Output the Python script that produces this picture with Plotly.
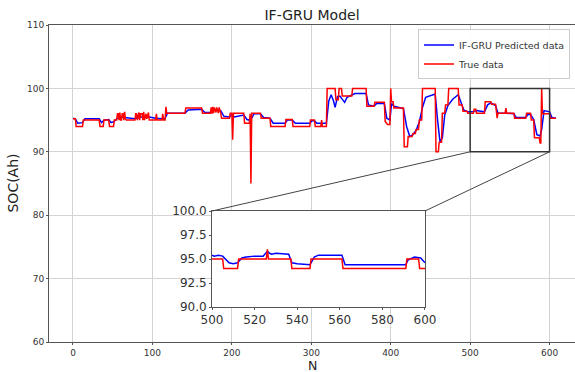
import plotly.graph_objects as go

# ---- data ----
true_n = [0, 3, 4, 12, 13, 33, 34, 38, 39, 45, 46, 51, 52, 55,
          56, 57, 58, 59, 60, 61, 62, 63, 64, 65, 66, 67,
          78, 79, 80, 81, 83, 84, 85, 87, 88, 89, 90, 92, 93, 95, 96,
          104, 105, 106, 112, 113, 114, 116, 117, 118,
          141, 142, 162, 163, 173,
          174, 175, 176, 177, 178, 180, 181, 183, 184, 186, 187,
          197, 198, 200, 201, 202, 215, 216, 222, 223, 224, 225, 236, 237, 248, 249,
          267, 268, 276, 277, 298, 299, 304, 305, 312, 313, 314, 319, 320, 330, 331,
          334, 335, 338, 339, 351, 352, 369, 370, 379, 380, 392, 393, 396, 399, 400,
          401, 403, 404, 416, 417, 421, 422, 427, 428, 431, 432, 435, 436, 439, 440,
          456, 457, 460, 461, 464, 465, 468, 469, 472, 473, 485, 486, 490, 491, 496,
          497, 504, 505, 507, 508, 518, 519, 526, 527, 532, 533, 534, 535, 544, 545,
          546, 555, 556, 570, 571, 576, 577, 580, 581, 587, 588, 589, 590, 591, 600,
          601, 608]
true_soc = [95.2, 95.2, 94.0, 94.0, 95.0, 95.0, 94.0, 94.0, 95.0, 95.0, 94.0, 94.0, 95.0, 95.0,
            96.0, 96.0, 95.0, 96.2, 95.0, 95.0, 96.0, 96.0, 95.0, 96.3, 95.2, 95.0,
            95.0, 96.0, 96.0, 95.0, 96.2, 95.0, 96.0, 96.0, 95.0, 96.3, 95.0, 96.0, 95.2, 96.2, 95.0,
            95.0, 96.0, 95.0, 95.0, 96.0, 95.0, 95.0, 97.1, 96.1,
            96.1, 96.9, 96.9, 96.1, 96.1,
            97.0, 96.0, 97.1, 96.1, 97.0, 96.2, 97.0, 96.1, 97.0, 96.1, 95.3,
            95.3, 96.1, 96.1, 91.9, 96.1, 96.1, 94.5, 94.5, 96.0, 85.0, 96.1, 96.1, 95.3, 95.3, 94.0,
            94.0, 95.1, 95.1, 94.0, 94.0, 95.0, 95.0, 94.0, 94.0, 95.0, 94.0, 94.0, 100.0, 100.0, 98.2,
            98.2, 100.0, 100.0, 98.8, 98.8, 100.0, 100.0, 97.2, 97.2, 97.8, 97.8, 94.8, 94.3, 94.3, 100.0,
            97.9, 97.9, 96.9, 96.9, 90.8, 90.8, 92.4, 92.4, 92.9, 92.9, 93.5, 93.5, 95.0, 95.0, 100.0,
            100.0, 90.0, 90.0, 91.5, 91.5, 96.1, 96.1, 97.4, 97.4, 100.0, 100.0, 97.4, 97.4, 96.4, 96.4,
            96.1, 96.1, 96.7, 96.7, 96.1, 96.1, 97.9, 97.9, 97.5, 97.5, 96.1, 95.3, 96.1, 96.1, 96.9,
            96.1, 96.1, 95.3, 95.3, 96.1, 96.1, 95.0, 95.0, 92.2, 92.2, 91.4, 91.4, 100.0, 96.0, 96.0,
            95.3, 95.3]

pred_n = [0, 3, 6, 12, 15, 33, 36, 39, 45, 48, 52, 55, 60, 67, 78, 85, 96, 104, 112, 116, 119,
          141, 145, 162, 166, 173, 178, 186, 190, 197, 200, 203, 215, 219, 222, 225, 228, 236, 240,
          248, 252, 267, 270, 276, 280, 298, 301, 304, 307, 319, 322, 325, 328, 330, 333, 336, 339,
          342, 345, 351, 355, 369, 372, 379, 382, 392, 395, 399, 401, 404, 416, 420, 424, 428, 432,
          436, 440, 444, 456, 459, 462, 465, 468, 472, 478, 485, 489, 492, 497, 504, 508, 518, 522,
          526, 532, 535, 545, 555, 558, 570, 573, 576, 580, 584, 588, 590, 593, 600, 603, 608]
pred_soc = [95.3, 95.2, 94.5, 94.6, 95.2, 95.2, 94.6, 95.0, 95.1, 94.6, 94.8, 95.2, 95.5, 95.4,
            95.2, 95.5, 95.5, 95.3, 95.2, 95.3, 96.1,
            96.1, 96.6, 96.7, 96.2, 96.2, 96.6, 96.5, 95.6, 95.5, 95.9, 95.5, 95.8, 95.1, 95.0, 95.3,
            96.0, 96.0, 95.4,
            95.3, 94.5, 94.5, 95.0, 95.0, 94.5, 94.5, 94.9, 94.9, 94.5, 94.5, 98.0, 99.0, 98.0, 97.0,
            98.7, 98.8, 98.2,
            97.8, 98.6, 98.9, 99.2, 99.2, 97.4, 97.2, 97.6, 97.6, 95.3, 95.0, 97.6, 97.2, 96.8, 94.0,
            92.4, 92.7, 93.4,
            94.7, 97.0, 98.6, 99.1, 95.0, 91.6, 92.2, 95.8, 97.3, 98.3, 99.0, 97.6, 96.6, 96.3, 96.3,
            96.5, 96.3, 97.4,
            97.7, 97.3, 96.1, 96.1, 96.0, 95.4, 95.4, 95.9, 95.9, 95.1, 92.7, 92.5, 93.5, 96.5, 96.3,
            95.4, 95.3]

# zoomed panel (N = 500 ... 600) as drawn in the inset
zoom_true_n = [500, 505, 505.5, 512, 512.5, 525.5, 526, 526.5, 537, 537.5, 546, 546.5, 561,
               561.5, 591, 591.5, 597, 597.5, 600]
zoom_true_soc = [95, 95, 94, 94, 95, 95, 96, 95, 95, 94, 94, 95, 95, 94, 94, 95, 95, 94, 94]
zoom_pred_n = [500, 501, 503, 505, 508, 510, 512, 514, 516, 520, 524, 526, 527, 528, 530, 536,
               537.5, 540, 546, 548, 550, 561, 562.5, 570, 580, 585, 591, 592, 595, 598, 600]
zoom_pred_soc = [95.4, 95.3, 95.4, 95.3, 94.6, 94.5, 94.6, 95.1, 95.2, 95.3, 95.3, 95.8, 95.6,
                 95.5, 95.6, 95.5, 94.6, 94.5, 94.4, 95.2, 95.4, 95.4, 94.4, 94.4, 94.4, 94.4,
                 94.4, 94.9, 95.2, 95.1, 94.6]

x_ticks = [0, 100, 200, 300, 400, 500, 600]
y_ticks = [60, 70, 80, 90, 100, 110]
zoom_x_ticks = [500, 520, 540, 560, 580, 600]
zoom_y_ticks = [90.0, 92.5, 95.0, 97.5, 100.0]
zoom_y_labels = ["90.0", "92.5", "95.0", "97.5", "100.0"]

# ---- layout constants ----
XR = [-30.2, 632]
YR = [60, 110]
ZX = [500, 600]
ZY = [90, 100]
ins_x = [0.3099, 0.7148]
ins_y = [0.1104, 0.4132]

BLUE = "#0000ff"
RED = "#ff0000"
FONT = "DejaVu Sans"

fig = go.Figure()
fig.add_trace(go.Scatter(x=pred_n, y=pred_soc, mode="lines", name="IF-GRU Predicted data",
                         line=dict(color=BLUE, width=1.5), xaxis="x", yaxis="y"))
fig.add_trace(go.Scatter(x=true_n, y=true_soc, mode="lines", name="True data",
                         line=dict(color=RED, width=1.5), xaxis="x", yaxis="y"))
fig.add_trace(go.Scatter(x=zoom_pred_n, y=zoom_pred_soc, mode="lines", showlegend=False,
                         line=dict(color=BLUE, width=1.5), xaxis="x2", yaxis="y2"))
fig.add_trace(go.Scatter(x=zoom_true_n, y=zoom_true_soc, mode="lines", showlegend=False,
                         line=dict(color=RED, width=1.5), xaxis="x2", yaxis="y2"))


def px(v):
    return (v - XR[0]) / (XR[1] - XR[0])


def py(v):
    return (v - YR[0]) / (YR[1] - YR[0])


shapes = [
    dict(type="rect", xref="x2", yref="y2", x0=ZX[0], x1=ZX[1], y0=ZY[0], y1=ZY[1],
         fillcolor="white", line=dict(width=0), layer="between"),
    dict(type="rect", xref="x", yref="y", x0=ZX[0], x1=ZX[1], y0=ZY[0], y1=ZY[1],
         line=dict(color="#333333", width=1.5), layer="above"),
    dict(type="line", xref="paper", yref="paper", x0=px(ZX[0]), y0=py(ZY[0]),
         x1=ins_x[0], y1=ins_y[1], line=dict(color="#444444", width=1)),
    dict(type="line", xref="paper", yref="paper", x0=px(ZX[1]), y0=py(ZY[0]),
         x1=ins_x[1], y1=ins_y[1], line=dict(color="#444444", width=1)),
]

axis_common = dict(showline=True, mirror=True, linecolor="#555555", linewidth=1,
                   ticks="outside", ticklen=2, tickcolor="#555555", zeroline=False,
                   automargin=False)

fig.update_layout(
    width=575, height=372,
    margin=dict(l=49, r=0, t=25, b=30, autoexpand=False),
    paper_bgcolor="white", plot_bgcolor="white",
    font=dict(family=FONT, color="#333333"),
    title=dict(text="IF-GRU Model", x=(49 + 526 / 2) / 575, xanchor="center",
               y=1 - 15 / 372, yanchor="middle", font=dict(size=14, color="#222222")),
    xaxis=dict(range=XR, tickvals=x_ticks, showgrid=True, gridcolor="#d3d3d3", gridwidth=1,
               tickfont=dict(size=9), domain=[0, 1], **axis_common),
    yaxis=dict(range=YR, tickvals=y_ticks, showgrid=True, gridcolor="#d3d3d3", gridwidth=1,
               tickfont=dict(size=9), domain=[0, 1], **axis_common),
    xaxis2=dict(range=ZX, tickvals=zoom_x_ticks, showgrid=False, domain=ins_x, anchor="y2",
                tickfont=dict(size=12), **axis_common),
    yaxis2=dict(range=ZY, tickvals=zoom_y_ticks, ticktext=zoom_y_labels, showgrid=False,
                domain=ins_y, anchor="x2", tickfont=dict(size=12), **axis_common),
    legend=dict(x=0.9905, y=0.986, xanchor="right", yanchor="top", itemwidth=30,
                bgcolor="rgba(255,255,255,0.9)", bordercolor="#cccccc", borderwidth=1,
                font=dict(size=9.5, color="#333333"), tracegroupgap=0),
    showlegend=True,
    shapes=shapes,
    annotations=[
        dict(text="SOC(Ah)", xref="paper", yref="paper", x=-0.0703, y=0.5, textangle=-90,
             showarrow=False, font=dict(size=14, color="#222222"), xanchor="center", yanchor="middle"),
        dict(text="N", xref="paper", yref="paper", x=0.5, y=-(365 - 342) / 317,
             showarrow=False, font=dict(size=12.5, color="#222222"), xanchor="center", yanchor="middle"),
    ],
)

fig.write_html("out.html")
